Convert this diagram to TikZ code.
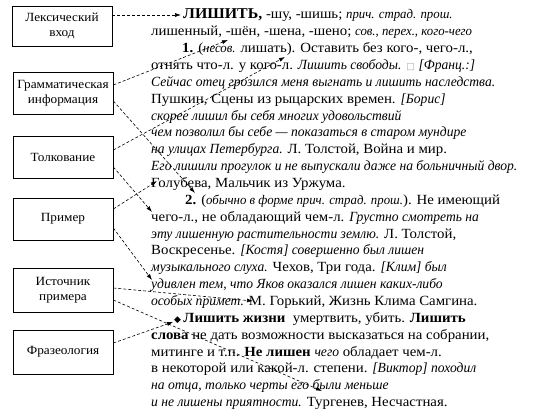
\documentclass[tikz,border=0pt]{standalone}
\usepackage{fontspec}
\setmainfont{Liberation Serif}[
  UprightFeatures={FakeStretch=1.06},
  BoldFeatures={FakeStretch=1.06},
  ItalicFeatures={FakeStretch=0.97}]
\newfontfamily\symfont{DejaVu Sans}
\usetikzlibrary{arrows.meta,calc}

% small italic labels of the dictionary entry
\newcommand{\grm}[1]{{\fontsize{13.2}{14}\selectfont\itshape #1}}

\begin{document}
\begin{tikzpicture}[x=1pt, y=-1pt,
  font=\fontsize{14}{16}\selectfont,
  lab/.style={draw, line width=0.7pt, align=center, minimum width=100pt,
              inner sep=1pt, fill=white, font=\fontsize{12.5}{15}\selectfont},
  ln/.style={anchor=base west, inner sep=0pt},
  ar/.style={-{Latex[length=6pt,width=4pt]}, dash pattern=on 3pt off 2pt,
             line width=0.6pt}
]
\useasboundingbox (0,0) rectangle (536,412);

% left column: parts of the entry
\node[lab, minimum height=40pt] (lex)   at (62,26)  {Лексический\\вход};
\node[lab, minimum height=42pt] (gram)  at (63,93)  {Грамматическая\\информация};
\node[lab, minimum height=42pt] (defn)  at (63,157) {Толкование};
\node[lab, minimum height=42pt] (exmp)  at (63,219) {Пример};
\node[lab, minimum height=44pt] (src)   at (63,290) {Источник\\примера};
\node[lab, minimum height=44pt] (phr)   at (63,352) {Фразеология};

% right column: the entry itself, line by line
\node[ln] (hw)    at (183,19.0)   {{\fontsize{15}{16}\selectfont\bfseries ЛИШИТЬ,} -шу, -шишь; \grm{прич. страд. прош.}};
\node[ln] (forms) at (151,35.85)  {лишенный, -шён, -шена, -шено; \grm{сов., перех., кого-чего}};
\node[ln] (s1)    at (182,52.7)   {\textbf{1.} (\grm{несов.} лишать). Оставить без кого-, чего-л.,};
\node[ln] (s1b)   at (151,69.55)  {отнять что-л. у кого-л. \textit{Лишить свободы.} {\symfont\color{black!35}\small □} \textit{[Франц.:]}};
\node[ln] (e1)    at (151,86.4)   {\textit{Сейчас отец грозился меня выгнать и лишить наследства.}};
\node[ln] (e1s)   at (151,103.25) {Пушкин, Сцены из рыцарских времен. \textit{[Борис]}};
\node[ln] (e2)    at (151,120.1)  {\textit{скорее лишил бы себя многих удовольствий}};
\node[ln] (e2b)   at (151,136.95) {\textit{чем позволил бы себе — показаться в старом мундире}};
\node[ln] (e2s)   at (151,153.8)  {\textit{на улицах Петербурга.} Л. Толстой, Война и мир.};
\node[ln] (e3)    at (151,170.65) {\textit{Его лишили прогулок и не выпускали даже на больничный двор.}};
\node[ln] (e3s)   at (151,187.5)  {Голубева, Мальчик из Уржума.};
\node[ln] (s2)    at (185,204.35) {\textbf{2.} (\grm{обычно в форме прич. страд. прош.}). Не имеющий};
\node[ln] (s2b)   at (151,221.2)  {чего-л., не обладающий чем-л. \textit{Грустно смотреть на}};
\node[ln] (e4)    at (151,238.05) {\textit{эту лишенную растительности землю.} Л. Толстой,};
\node[ln] (e4s)   at (151,254.9)  {Воскресенье. \textit{[Костя] совершенно был лишен}};
\node[ln] (e5)    at (151,271.75) {\textit{музыкального слуха.} Чехов, Три года. \textit{[Клим] был}};
\node[ln] (e6)    at (151,288.6)  {\textit{удивлен тем, что Яков оказался лишен каких-либо}};
\node[ln] (e6s)   at (151,305.45) {\textit{особых примет.} М. Горький, Жизнь Клима Самгина.};
\node[ln] (ph1)   at (174,322.3)  {{\symfont\small ◆}\,\textbf{Лишить жизни} \ умертвить, убить. \textbf{Лишить}};
\node[ln] (ph1b)  at (151,339.15) {\textbf{слова} не дать возможности высказаться на собрании,};
\node[ln] (ph2)   at (151,356.0)  {митинге и т.п. \textbf{Не лишен} \textit{чего} обладает чем-л.};
\node[ln] (ph2b)  at (151,372.85) {в некоторой или какой-л. степени. \textit{[Виктор] походил}};
\node[ln] (e7)    at (151,389.7)  {\textit{на отца, только черты его были меньше}};
\node[ln] (e7s)   at (151,406.55) {\textit{и не лишены приятности.} Тургенев, Несчастная.};

% arrow ends inside the entry
\coordinate (t-hw)    at (181,15);
\coordinate (t-forms) at (228,40);
\coordinate (t-num2)  at (195,193);
\coordinate (t-def1)  at (285,57);
\coordinate (t-def2)  at (152,212);
\coordinate (t-ex1)   at (157,181);
\coordinate (t-ex2)   at (152,280);
\coordinate (t-src)   at (253,301);
\coordinate (t-src2)  at (322,391);
\coordinate (t-phr)   at (173,322);

\draw[ar] ([yshift=11pt]lex.east)  -- (t-hw);
\draw[ar] ([yshift=8pt]gram.east)  -- (t-forms);
\draw[ar] ([yshift=-8pt]gram.east) -- (t-num2);
\draw[ar] ([yshift=7pt]defn.east)  -- (t-def1);
\draw[ar] ([yshift=-10pt]defn.east) -- (t-def2);
\draw[ar] ([yshift=10pt]exmp.east) -- (t-ex1);
\draw[ar] ([yshift=-9pt]exmp.east) -- (t-ex2);
\draw[ar] ([yshift=2pt]src.east)   -- (t-src);
\draw[ar] ([yshift=-10pt]src.east) -- (t-src2);
\draw[ar] ([yshift=9pt]phr.east)   -- (t-phr);
\end{tikzpicture}
\end{document}
